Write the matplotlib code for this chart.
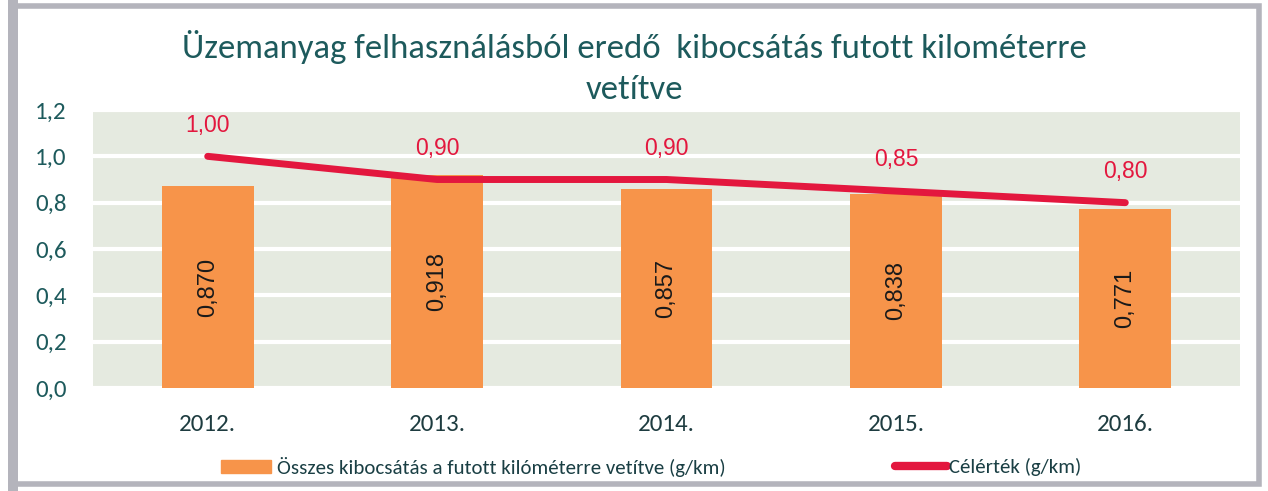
import matplotlib.pyplot as plt
from matplotlib.patches import Rectangle
from matplotlib.lines import Line2D
import numpy as np

years = ['2012.', '2013.', '2014.', '2015.', '2016.']
emission = [0.870, 0.918, 0.857, 0.838, 0.771]
target = [1.00, 0.90, 0.90, 0.85, 0.80]
yticks = [0.0, 0.2, 0.4, 0.6, 0.8, 1.0, 1.2]

plt.rcParams['font.family'] = ['Carlito', 'DejaVu Sans']

teal = '#1d5a5c'
orange = '#f7944a'
red = '#e3173e'
arial = ['Liberation Sans', 'DejaVu Sans']

fig = plt.figure(figsize=(12.68, 4.91), dpi=100)
ax = fig.add_axes([93 / 1268, 1 - 388 / 491, (1240 - 93) / 1268, (388 - 110) / 491])
ax.set_facecolor('#e5eae0')

x = np.arange(len(years))
ax.bar(x, emission, width=0.4, color=orange, zorder=2)
ax.plot(x, target, color=red, lw=5, solid_capstyle='round', zorder=3)

# value labels
for xi, v in zip(x, emission):
    ax.text(xi, v / 2, f'{v:.3f}'.replace('.', ','), rotation=90, ha='center', va='center',
            fontsize=17, color='#1a1a1a', family=arial)
for xi, v in zip(x, target):
    ax.text(xi, v + 0.135, f'{v:.2f}'.replace('.', ','), ha='center', va='center',
            fontsize=16.5, color=red, family=arial)

ax.set_xlim(-0.5, len(years) - 0.5)
ax.set_ylim(0, 1.2)
ax.set_yticks(yticks)
ax.set_yticklabels([f'{t:.1f}'.replace('.', ',') for t in yticks], fontsize=18, color=teal)
ax.set_xticks(x)
ax.set_xticklabels(years, fontsize=18, color='#1e3c40')
ax.tick_params(axis='x', length=0, pad=19)
ax.tick_params(axis='y', length=0, pad=19)
ax.grid(axis='y', color='white', lw=3, zorder=1)
ax.set_axisbelow(True)
for s in ax.spines.values():
    s.set_visible(False)

fig.text(0.5, 1 - 47 / 491, 'Üzemanyag felhasználásból eredő  kibocsátás futott kilométerre',
         ha='center', va='center', fontsize=25, color=teal)
fig.text(0.5, 1 - 90 / 491, 'vetítve', ha='center', va='center', fontsize=25, color=teal)

# legend
h_bar = Rectangle((0, 0), 1, 1, color=orange)
h_line = Line2D([0], [0], color=red, lw=6, solid_capstyle='round')
leg1 = fig.legend([h_bar], ['Összes kibocsátás a futott kilóméterre vetítve (g/km)'],
                  loc='center left', bbox_to_anchor=(221 / 1268, 1 - 467 / 491), frameon=False,
                  fontsize=15, handlelength=2.4, handleheight=0.55, handletextpad=0.3,
                  borderpad=0, borderaxespad=0)
leg2 = fig.legend([h_line], ['Célérték (g/km)'],
                  loc='center left', bbox_to_anchor=(895 / 1268, 1 - 467 / 491), frameon=False,
                  fontsize=15, handlelength=2.5, handletextpad=0.1,
                  borderpad=0, borderaxespad=0)
for leg in (leg1, leg2):
    for t in leg.get_texts():
        t.set_color('#1a3f44')

# scanned page frame
fig.patches.append(Rectangle((15 / 1268, 7 / 491), 1244 / 1268, 478 / 491, transform=fig.transFigure,
                             fill=False, edgecolor='#b4b4bc', lw=4))
fig.patches.append(Rectangle((8 / 1268, 0), 10 / 1268, 1, transform=fig.transFigure,
                             color='#b4b4bc', lw=0))

fig.savefig('out.png', dpi=100)
